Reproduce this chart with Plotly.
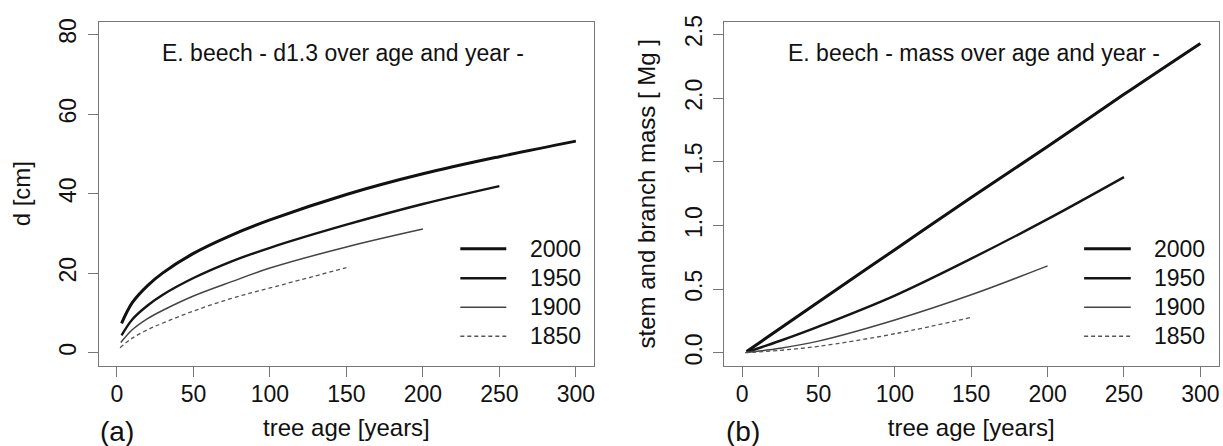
import plotly.graph_objects as go

# ---------------- data ----------------
years = ["2000", "1950", "1900", "1850"]

age_2000 = [3, 10, 20, 30, 50, 75, 100, 150, 200, 250, 300]
d_2000 = [7.4, 12.6, 16.9, 20.1, 25.0, 29.6, 33.4, 39.8, 45.0, 49.3, 53.2]
age_1950 = [3, 10, 20, 30, 50, 75, 100, 150, 200, 250]
d_1950 = [4.4, 8.4, 11.9, 14.6, 18.8, 23.0, 26.4, 32.2, 37.4, 41.9]
age_1900 = [2.5, 10, 20, 30, 50, 75, 100, 150, 200]
d_1900 = [2.6, 5.8, 8.6, 10.7, 14.3, 17.9, 21.3, 26.6, 31.1]
age_1850 = [2, 10, 20, 30, 50, 75, 100, 150]
d_1850 = [1.3, 3.7, 5.8, 7.5, 10.5, 13.7, 16.3, 21.4]

mage_2000 = [3, 50, 100, 150, 200, 250, 300]
m_2000 = [0.01, 0.40, 0.81, 1.22, 1.62, 2.03, 2.43]
mage_1950 = [3, 25, 50, 100, 150, 200, 250]
m_1950 = [0.005, 0.095, 0.206, 0.45, 0.74, 1.05, 1.38]
mage_1900 = [2.5, 25, 50, 100, 150, 200]
m_1900 = [0.002, 0.036, 0.092, 0.258, 0.456, 0.683]
mage_1850 = [2, 25, 50, 100, 150]
m_1850 = [0.001, 0.02, 0.051, 0.15, 0.278]

x_ticks = [0, 50, 100, 150, 200, 250, 300]
d_ticks = [0, 20, 40, 60, 80]
m_ticks = [0.0, 0.5, 1.0, 1.5, 2.0, 2.5]
m_ticktext = ["0.0", "0.5", "1.0", "1.5", "2.0", "2.5"]

# ---------------- styles ----------------
styles = {
    "2000": dict(color="#111111", width=3.0, dash="solid"),
    "1950": dict(color="#151515", width=2.4, dash="solid"),
    "1900": dict(color="#444444", width=1.5, dash="solid"),
    "1850": dict(color="#555555", width=1.3, dash="4px,3px"),
}
FONT = "Liberation Sans, Arial, sans-serif"
AX = "#777777"
TXT = "#111111"
W, H = 1223, 446

fig = go.Figure()
left = [(age_2000, d_2000), (age_1950, d_1950), (age_1900, d_1900), (age_1850, d_1850)]
right = [(mage_2000, m_2000), (mage_1950, m_1950), (mage_1900, m_1900), (mage_1850, m_1850)]
for yr, (xs, ys) in zip(years, left):
    fig.add_trace(go.Scatter(x=xs, y=ys, mode="lines", name=yr, line=dict(shape="spline", **styles[yr]),
                             xaxis="x", yaxis="y", showlegend=False))
for yr, (xs, ys) in zip(years, right):
    fig.add_trace(go.Scatter(x=xs, y=ys, mode="lines", name=yr, line=dict(shape="spline", **styles[yr]),
                             xaxis="x2", yaxis="y2", showlegend=False))

ydom = [81.7 / H, 431 / H]
common = dict(showline=True, mirror=True, linecolor=AX, linewidth=1, ticks="outside", ticklen=10,
              tickcolor=AX, tickwidth=1, showgrid=False, zeroline=False,
              tickfont=dict(family=FONT, size=23, color=TXT))
xtitle = dict(text="tree age [years]", font=dict(family=FONT, size=24, color=TXT), standoff=13)

# ---------------- legend (drawn by hand, R-style) ----------------
legend_rows = [245.7, 275.5, 305.0, 334.5]
legend_blocks = [(460.7, 506.7, 528.0), (1085.0, 1131.7, 1153.0)]
shapes, annotations = [], []
for (lx0, lx1, tx) in legend_blocks:
    for yr, ry in zip(years, legend_rows):
        st = styles[yr]
        shapes.append(dict(type="line", xref="paper", yref="paper", x0=lx0 / W, x1=lx1 / W,
                           y0=1 - ry / H, y1=1 - ry / H,
                           line=dict(color=st["color"], width=st["width"], dash=st["dash"])))
        annotations.append(dict(text=yr, x=tx / W, y=1 - ry / H, xref="paper", yref="paper",
                                xanchor="left", yanchor="middle", showarrow=False,
                                font=dict(family=FONT, size=23, color=TXT)))

annotations += [
    dict(text="E. beech - d1.3 over age and year -", x=160 / W, y=1 - 46.7 / H, xref="paper", yref="paper",
         xanchor="left", yanchor="middle", showarrow=False, font=dict(family=FONT, size=23, color=TXT)),
    dict(text="E. beech - mass over age and year -", x=786.7 / W, y=1 - 46.7 / H, xref="paper", yref="paper",
         xanchor="left", yanchor="middle", showarrow=False, font=dict(family=FONT, size=23, color=TXT)),
    dict(text="(a)", x=116.7 / W, y=1 - 431.7 / H, xref="paper", yref="paper", xanchor="center",
         yanchor="middle", showarrow=False, font=dict(family=FONT, size=28, color=TXT)),
    dict(text="(b)", x=743.3 / W, y=1 - 431.7 / H, xref="paper", yref="paper", xanchor="center",
         yanchor="middle", showarrow=False, font=dict(family=FONT, size=28, color=TXT)),
]

fig.update_layout(
    width=W, height=H, margin=dict(l=0, r=0, t=0, b=0),
    paper_bgcolor="white", plot_bgcolor="white",
    xaxis=dict(domain=[98.7 / W, 594.7 / W], range=[-12, 312], tickvals=x_ticks, anchor="y",
               title=xtitle, ticklabelstandoff=-2, **common),
    yaxis=dict(domain=ydom, range=[-3.2, 83.2], tickvals=d_ticks, tickangle=-90, anchor="x",
               title=dict(text="d [cm]", font=dict(family=FONT, size=24, color=TXT), standoff=18),
               ticklabelstandoff=2, **common),
    xaxis2=dict(domain=[724.3 / W, 1219.7 / W], range=[-12, 312], tickvals=x_ticks, anchor="y2",
                title=xtitle, ticklabelstandoff=-2, **common),
    yaxis2=dict(domain=ydom, range=[-0.1, 2.6], tickvals=m_ticks, ticktext=m_ticktext, tickangle=-90,
                anchor="x2",
                title=dict(text="stem and branch mass [ Mg ]", font=dict(family=FONT, size=24, color=TXT),
                           standoff=18),
                ticklabelstandoff=2, **common),
    shapes=shapes,
    annotations=annotations,
)

fig.write_html("out.html")
